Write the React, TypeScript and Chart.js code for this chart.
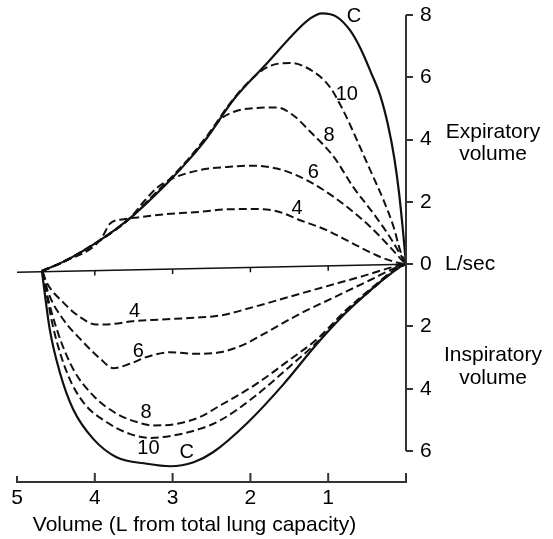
import { useEffect, useRef } from "react";
import { Chart, registerables } from "chart.js";

Chart.register(...registerables);

// Axis ticks
const volumeTicks = [5, 4, 3, 2, 1, 0];
const flowTicks = [8, 6, 4, 2, 0, -2, -4, -6];

// Expiratory curves (volume in L from TLC, flow in L/sec)
const cExpVol = [4.68, 4.4, 3.93, 3.55, 3.29, 3.03, 2.78, 2.56, 2.22, 1.79, 1.4, 1.23, 1.08, 0.89, 0.72, 0.58, 0.45, 0.33, 0.23, 0.15, 0.09, 0.04, 0];
const cExpFlow = [-0.22, 0.08, 0.77, 1.47, 2.06, 2.7, 3.38, 4.05, 5.27, 6.44, 7.51, 7.89, 8.05, 7.94, 7.51, 6.9, 6.15, 5.4, 4.45, 3.4, 2.3, 1.1, 0];

const tenExpVol = [4.68, 4.4, 3.93, 3.55, 3.29, 3.03, 2.78, 2.56, 2.22, 1.95, 1.75, 1.49, 1.19, 0.98, 0.81, 0.63, 0.46, 0.29, 0.16, 0.07, 0];
const tenExpFlow = [-0.22, 0.08, 0.77, 1.47, 2.1, 2.74, 3.42, 4.1, 5.3, 6.02, 6.36, 6.46, 6.18, 5.69, 4.95, 3.98, 3.02, 2.06, 1.2, 0.4, 0];

const eightExpVol = [4.68, 4.4, 3.93, 3.55, 3.29, 3.03, 2.78, 2.56, 2.37, 2.2, 2.0, 1.66, 1.45, 1.23, 0.93, 0.68, 0.42, 0.21, 0.07, 0];
const eightExpFlow = [-0.22, 0.08, 0.77, 1.47, 2.1, 2.74, 3.42, 4.1, 4.68, 4.9, 5.0, 5.03, 4.78, 4.25, 3.45, 2.48, 1.63, 0.88, 0.3, 0];

const sixExpVol = [4.68, 4.4, 3.93, 3.55, 3.38, 3.2, 3.03, 2.65, 2.3, 2.0, 1.66, 1.36, 1.06, 0.76, 0.46, 0.21, 0.05, 0];
const sixExpFlow = [-0.22, 0.08, 0.77, 1.47, 1.98, 2.45, 2.72, 3.02, 3.12, 3.16, 3.07, 2.8, 2.38, 1.84, 1.2, 0.56, 0.12, 0];

const fourExpVol = [4.68, 4.4, 3.93, 3.8, 3.63, 3.45, 3.1, 2.65, 2.3, 1.92, 1.66, 1.36, 1.02, 0.68, 0.33, 0.08, 0];
const fourExpFlow = [-0.22, 0.08, 0.77, 1.31, 1.44, 1.5, 1.6, 1.68, 1.76, 1.77, 1.7, 1.41, 1.09, 0.66, 0.23, 0.03, 0];

// Inspiratory curves (negative flow)
const cInsVol = [4.68, 4.58, 4.45, 4.28, 4.02, 3.72, 3.33, 3.03, 2.73, 2.48, 2.04, 1.59, 1.14, 0.78, 0.46, 0.19, 0.03, 0];
const cInsFlow = [-0.22, -2.08, -3.47, -4.65, -5.61, -6.2, -6.41, -6.49, -6.36, -6.04, -5.1, -3.9, -2.55, -1.58, -0.84, -0.3, -0.02, 0];

const tenInsVol = [4.67, 4.64, 4.53, 4.36, 4.15, 3.85, 3.55, 3.29, 2.99, 2.65, 2.39, 1.95, 1.5, 1.14, 0.78, 0.41, 0.15, 0];
const tenInsFlow = [-0.25, -0.68, -2.08, -3.47, -4.43, -5.07, -5.45, -5.58, -5.5, -5.29, -5.02, -4.26, -3.3, -2.5, -1.55, -0.75, -0.2, 0];

const eightInsVol = [4.67, 4.63, 4.49, 4.28, 4.02, 3.72, 3.46, 3.25, 2.95, 2.65, 2.39, 1.95, 1.5, 1.14, 0.78, 0.41, 0.15, 0];
const eightInsFlow = [-0.25, -0.79, -2.08, -3.36, -4.22, -4.8, -5.07, -5.18, -5.13, -4.91, -4.54, -3.89, -3.08, -2.4, -1.5, -0.7, -0.18, 0];

const sixInsVol = [4.67, 4.6, 4.41, 4.15, 3.93, 3.76, 3.55, 3.33, 3.03, 2.69, 2.39, 2.1, 1.82, 1.36, 0.91, 0.46, 0.1, 0];
const sixInsFlow = [-0.25, -0.9, -1.76, -2.5, -3.04, -3.34, -3.2, -2.98, -2.83, -2.88, -2.83, -2.6, -2.23, -1.59, -1.05, -0.51, -0.08, 0];

const fourInsVol = [4.67, 4.62, 4.41, 4.19, 3.98, 3.76, 3.51, 3.16, 2.73, 2.39, 1.95, 1.5, 1.05, 0.59, 0.15, 0];
const fourInsFlow = [-0.25, -0.58, -1.22, -1.7, -1.94, -1.92, -1.83, -1.78, -1.72, -1.65, -1.37, -1.05, -0.73, -0.41, -0.08, 0];

// Zero line (slightly tilted in the source figure)
const zeroVol = [5, 0];
const zeroFlow = [-0.26, 0];

// Curve labels
const expLabelText = ["C", "10", "8", "6", "4"];
const expLabelVol = [0.67, 0.76, 0.99, 1.19, 1.4];
const expLabelFlow = [7.96, 5.46, 4.14, 2.93, 1.79];
const insLabelText = ["4", "6", "8", "10", "C"];
const insLabelVol = [3.49, 3.44, 3.34, 3.31, 2.82];
const insLabelFlow = [-1.52, -2.8, -4.75, -5.93, -6.04];

// Side labels
const sideLabelText = ["Expiratory", "volume", "Inspiratory", "volume"];
const sideLabelFlow = [4.24, 3.53, -2.92, -3.66];

const xTitle = "Volume (L from total lung capacity)";
const unitLabel = "L/sec";

const FONT = '"Liberation Sans", Arial, Helvetica, sans-serif';
const AXIS = "#333";
const INK = "#111";

function pts(xs: number[], ys: number[]) {
  return xs.map((x, i) => ({ x, y: ys[i] }));
}

function solid(data: { x: number; y: number }[], width = 2) {
  return {
    data,
    showLine: true,
    borderColor: INK,
    borderWidth: width,
    pointRadius: 0,
    cubicInterpolationMode: "monotone",
    fill: false,
  };
}

function dashed(data: { x: number; y: number }[]) {
  return { ...solid(data, 2), borderDash: [8, 4] };
}

const annotate = {
  id: "annotate",
  afterDraw(chart: any) {
    const { ctx, chartArea } = chart;
    const xs = chart.scales.x;
    const ys = chart.scales.y;
    ctx.save();
    ctx.strokeStyle = AXIS;
    ctx.lineWidth = 2;
    ctx.beginPath();
    // right axis line from 8 to -6
    const ax = chartArea.right;
    ctx.moveTo(ax, ys.getPixelForValue(flowTicks[0]));
    ctx.lineTo(ax, ys.getPixelForValue(flowTicks[flowTicks.length - 1]));
    // inward ticks on bottom axis
    volumeTicks.forEach((v) => {
      const px = xs.getPixelForValue(v);
      ctx.moveTo(px, chartArea.bottom);
      ctx.lineTo(px, chartArea.bottom - (v === 5 ? 6 : 9));
    });
    ctx.stroke();
    // ticks hanging under the zero line
    ctx.lineWidth = 1.5;
    ctx.strokeStyle = INK;
    ctx.beginPath();
    volumeTicks.forEach((v) => {
      if (v === 0 || v === 5) return;
      const t = (zeroVol[0] - v) / (zeroVol[0] - zeroVol[1]);
      const fy = zeroFlow[0] + (zeroFlow[1] - zeroFlow[0]) * t;
      const px = xs.getPixelForValue(v);
      const py = ys.getPixelForValue(fy);
      ctx.moveTo(px, py);
      ctx.lineTo(px, py + 5);
    });
    ctx.stroke();

    ctx.fillStyle = "#000";
    ctx.textBaseline = "middle";
    ctx.textAlign = "center";
    ctx.font = `20px ${FONT}`;
    expLabelText.forEach((t, i) => {
      ctx.fillText(t, xs.getPixelForValue(expLabelVol[i]), ys.getPixelForValue(expLabelFlow[i]));
    });
    insLabelText.forEach((t, i) => {
      ctx.fillText(t, xs.getPixelForValue(insLabelVol[i]), ys.getPixelForValue(insLabelFlow[i]));
    });

    ctx.font = `21px ${FONT}`;
    sideLabelText.forEach((t, i) => {
      ctx.fillText(t, chartArea.right + 87, ys.getPixelForValue(sideLabelFlow[i]));
    });
    ctx.textAlign = "left";
    ctx.fillText(unitLabel, chartArea.right + 39, ys.getPixelForValue(0));

    ctx.textAlign = "center";
    ctx.fillText(xTitle, chartArea.left + 177.5, chartArea.bottom + 43);
    ctx.restore();
  },
};

export default function App() {
  const ref = useRef<HTMLCanvasElement | null>(null);

  useEffect(() => {
    if (!ref.current) return;
    const chart = new Chart(ref.current, {
      type: "scatter",
      data: {
        datasets: [
          solid(pts(zeroVol, zeroFlow), 1.5),
          solid(pts(cExpVol, cExpFlow), 2.2),
          dashed(pts(tenExpVol, tenExpFlow)),
          dashed(pts(eightExpVol, eightExpFlow)),
          dashed(pts(sixExpVol, sixExpFlow)),
          dashed(pts(fourExpVol, fourExpFlow)),
          solid(pts(cInsVol, cInsFlow), 2.2),
          dashed(pts(tenInsVol, tenInsFlow)),
          dashed(pts(eightInsVol, eightInsFlow)),
          dashed(pts(sixInsVol, sixInsFlow)),
          dashed(pts(fourInsVol, fourInsFlow)),
        ] as any,
      },
      options: {
        animation: false,
        responsive: false,
        events: [],
        layout: { padding: { left: 17, top: 5, right: 0, bottom: 0 } },
        plugins: { legend: { display: false }, tooltip: { enabled: false } },
        scales: {
          x: {
            type: "linear",
            position: "bottom",
            reverse: true,
            min: 0,
            max: 5,
            afterBuildTicks: (s: any) => {
              s.ticks = volumeTicks.map((v) => ({ value: v }));
            },
            afterFit: (s: any) => {
              s.height = 57;
              s.paddingLeft = 0;
              s.paddingRight = 0;
            },
            ticks: {
              font: { family: FONT, size: 21 },
              color: "#000",
              padding: 4,
              maxRotation: 0,
              autoSkip: false,
              callback: (v: any) => (Number(v) === 0 ? "" : String(v)),
            },
            grid: { display: false, drawTicks: false },
            border: { display: true, color: AXIS, width: 2 },
          },
          y: {
            type: "linear",
            position: "right",
            min: -6.995,
            max: 8.32,
            afterBuildTicks: (s: any) => {
              s.ticks = flowTicks.map((v) => ({ value: v }));
            },
            afterFit: (s: any) => {
              s.width = 147;
              s.paddingTop = 0;
              s.paddingBottom = 0;
            },
            ticks: {
              font: { family: FONT, size: 21 },
              color: "#000",
              padding: 7,
              autoSkip: false,
              callback: (v: any) => String(Math.abs(Number(v))),
            },
            grid: {
              display: true,
              drawOnChartArea: false,
              drawTicks: true,
              tickLength: 7,
              color: AXIS,
              lineWidth: 2,
            },
            border: { display: false },
          },
        },
      },
      plugins: [annotate],
    });
    return () => chart.destroy();
  }, []);

  return (
    <div style={{ position: "absolute", left: 0, top: 0, width: 553, height: 539, background: "#fff" }}>
      <canvas ref={ref} width={553} height={539} style={{ display: "block" }} />
    </div>
  );
}
